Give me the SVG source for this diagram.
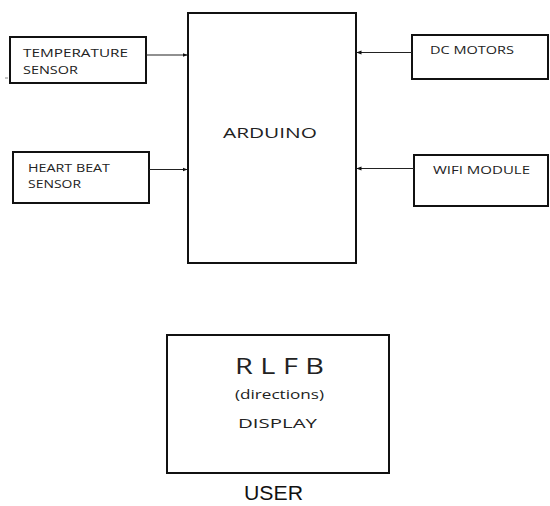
<svg xmlns="http://www.w3.org/2000/svg" width="550" height="506" viewBox="0 0 550 506">
<style>
.box{fill:#fff;stroke:#111;stroke-width:2}
.t{font-family:"Open Sans","Liberation Sans",sans-serif;fill:#222}
.u{font-family:"Liberation Sans",Arial,sans-serif;fill:#111}
.c{fill:none;stroke:#222;stroke-width:1.2}
</style>
<defs>
<marker id="ah" viewBox="0 0 10 10" refX="9" refY="5" markerWidth="5" markerHeight="5" orient="auto" markerUnits="userSpaceOnUse">
<path d="M0,1 L10,5 L0,9 Z" fill="#111"/>
</marker>
</defs>
<rect width="550" height="506" fill="#fff"/>
<g id="arduino">
<rect class="box" x="188" y="13" width="168" height="250"/>
<text class="t" x="223" y="138" font-size="15" textLength="94" lengthAdjust="spacingAndGlyphs">ARDUINO</text>
</g>
<g id="temperature-sensor">
<rect class="box" x="10" y="37" width="136" height="46"/>
<text class="t" x="23" y="57" font-size="11.5" textLength="105" lengthAdjust="spacingAndGlyphs">TEMPERATURE</text>
<text class="t" x="23" y="74" font-size="11.5" textLength="55" lengthAdjust="spacingAndGlyphs">SENSOR</text>
</g>
<g id="heart-beat-sensor">
<rect class="box" x="13" y="152" width="136" height="51"/>
<text class="t" x="28" y="172" font-size="11.5" textLength="82" lengthAdjust="spacingAndGlyphs">HEART BEAT</text>
<text class="t" x="28" y="188" font-size="11.5" textLength="53" lengthAdjust="spacingAndGlyphs">SENSOR</text>
</g>
<g id="dc-motors">
<rect class="box" x="412" y="35" width="136" height="44"/>
<text class="t" x="430" y="54" font-size="11.5" textLength="84" lengthAdjust="spacingAndGlyphs">DC MOTORS</text>
</g>
<g id="wifi-module">
<rect class="box" x="414" y="155" width="134" height="51"/>
<text class="t" x="433" y="174" font-size="11.5" textLength="97" lengthAdjust="spacingAndGlyphs">WIFI MODULE</text>
</g>
<g id="display">
<rect class="box" x="167" y="335" width="222" height="138"/>
<text class="t" x="235" y="374" font-size="21" textLength="89" lengthAdjust="spacingAndGlyphs">R L F B</text>
<text class="t" x="235" y="399" font-size="13" textLength="89" lengthAdjust="spacingAndGlyphs">(directions)</text>
<text class="t" x="238" y="428" font-size="13.5" textLength="79" lengthAdjust="spacingAndGlyphs">DISPLAY</text>
</g>
<g id="user">
<text class="u" x="244" y="500" font-size="20" textLength="59" lengthAdjust="spacingAndGlyphs">USER</text>
</g>
<g id="connectors">
<line class="c" x1="146" y1="55" x2="187" y2="55" marker-end="url(#ah)"/>
<line class="c" x1="149" y1="169.5" x2="187" y2="169.5" marker-end="url(#ah)"/>
<line class="c" x1="412" y1="52.5" x2="357" y2="52.5" marker-end="url(#ah)"/>
<line class="c" x1="414" y1="168.5" x2="357" y2="168.5" marker-end="url(#ah)"/>
<line x1="5" y1="78" x2="8" y2="78" stroke="#888" stroke-width="1"/>
</g>
</svg>
